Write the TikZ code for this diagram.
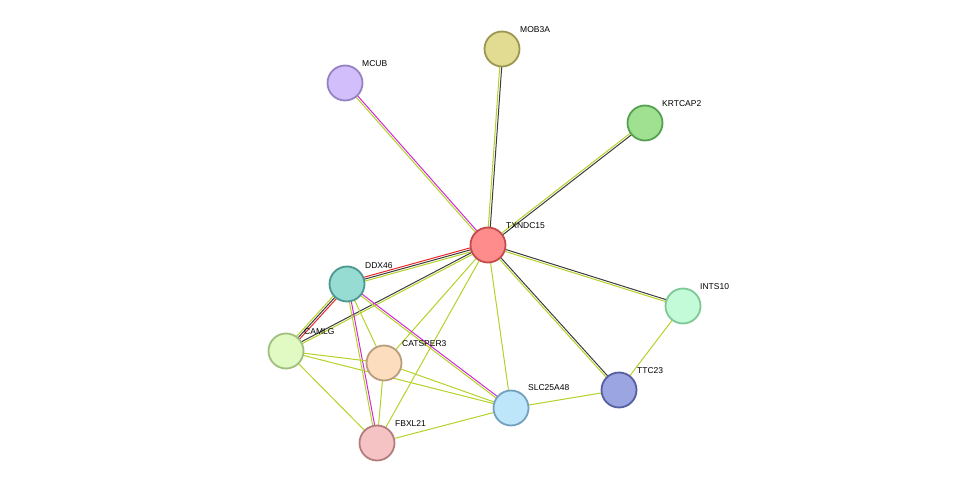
\documentclass[tikz,border=0pt]{standalone}
\usepackage{fontspec}
\setmainfont{Liberation Sans}
\usetikzlibrary{calc}
\definecolor{yg}{RGB}{180,210,40}
\definecolor{dk}{RGB}{60,60,60}
\definecolor{mg}{RGB}{210,40,210}
\definecolor{rd}{RGB}{235,40,40}
\begin{document}
\begin{tikzpicture}[x=1pt,y=-1pt,
  prot/.style={circle,minimum size=35pt,inner sep=0pt,line width=1.8pt},
  lab/.style={font=\fontsize{8.5}{10}\selectfont,anchor=south west,inner sep=1pt},
  e/.style={line width=1pt}]
\useasboundingbox (0,0) rectangle (976,489);
\foreach \n/\x/\y in {T/488/245,M/502/49,MC/345/83,K/645/123,D/347/284,I/683/306,C/286/351,CA/384/363,S/511/408,TT/619/390,F/377/443}
  \coordinate (\n) at (\x,\y);
\newcommand{\pe}[4]{\draw[e,#4] ($(#1)!#3!90:(#2)$) -- ($(#2)!#3!-90:(#1)$);}
% TXNDC15 edges
\pe{T}{M}{-1pt}{dk}\pe{T}{M}{1pt}{yg}
\pe{T}{MC}{-1pt}{mg}\pe{T}{MC}{1pt}{yg}
\pe{T}{K}{-1pt}{dk}\pe{T}{K}{1pt}{yg}
\pe{T}{D}{2pt}{yg}\pe{T}{D}{0pt}{dk}\pe{T}{D}{-2pt}{rd}
\pe{T}{C}{1pt}{yg}\pe{T}{C}{-1pt}{dk}
\pe{T}{CA}{0pt}{yg}\pe{T}{F}{0pt}{yg}\pe{T}{S}{0pt}{yg}
\pe{T}{TT}{1pt}{dk}\pe{T}{TT}{-1pt}{yg}
\pe{T}{I}{1pt}{dk}\pe{T}{I}{-1pt}{yg}
% DDX46 edges
\pe{D}{C}{2pt}{rd}\pe{D}{C}{0pt}{dk}\pe{D}{C}{-2pt}{yg}
\pe{D}{CA}{0pt}{yg}
\pe{D}{F}{1pt}{mg}\pe{D}{F}{-1pt}{yg}
\pe{D}{S}{1pt}{mg}\pe{D}{S}{-1pt}{yg}
% others
\pe{C}{CA}{0pt}{yg}\pe{C}{S}{0pt}{yg}\pe{C}{F}{0pt}{yg}
\pe{CA}{S}{0pt}{yg}\pe{CA}{F}{0pt}{yg}\pe{F}{S}{0pt}{yg}
\pe{S}{TT}{0pt}{yg}\pe{TT}{I}{0pt}{yg}
% nodes
\node[prot,fill={rgb,255:red,255;green,140;blue,140},draw={rgb,255:red,195;green,75;blue,75}] (nT) at (T) {};
\node[prot,fill={rgb,255:red,225;green,220;blue,145},draw={rgb,255:red,155;green,150;blue,80}] (nM) at (M) {};
\node[prot,fill={rgb,255:red,210;green,190;blue,250},draw={rgb,255:red,150;green,130;blue,195}] (nMC) at (MC) {};
\node[prot,fill={rgb,255:red,160;green,225;blue,145},draw={rgb,255:red,85;green,160;blue,80}] (nK) at (K) {};
\node[prot,fill={rgb,255:red,150;green,220;blue,210},draw={rgb,255:red,75;green,150;blue,145}] (nD) at (D) {};
\node[prot,fill={rgb,255:red,195;green,250;blue,215},draw={rgb,255:red,125;green,200;blue,150}] (nI) at (I) {};
\node[prot,fill={rgb,255:red,225;green,250;blue,195},draw={rgb,255:red,160;green,190;blue,125}] (nC) at (C) {};
\node[prot,fill={rgb,255:red,252;green,222;blue,190},draw={rgb,255:red,185;green,155;blue,125}] (nCA) at (CA) {};
\node[prot,fill={rgb,255:red,190;green,230;blue,250},draw={rgb,255:red,115;green,160;blue,190}] (nS) at (S) {};
\node[prot,fill={rgb,255:red,155;green,165;blue,225},draw={rgb,255:red,85;green,95;blue,160}] (nTT) at (TT) {};
\node[prot,fill={rgb,255:red,245;green,195;blue,195},draw={rgb,255:red,180;green,125;blue,125}] (nF) at (F) {};
% labels
\node[lab] at (505,230) {TXNDC15};
\node[lab] at (519,34) {MOB3A};
\node[lab] at (361,68) {MCUB};
\node[lab] at (661,108) {KRTCAP2};
\node[lab] at (364,270) {DDX46};
\node[lab] at (699,291) {INTS10};
\node[lab] at (303,336) {CAMLG};
\node[lab] at (401,348) {CATSPER3};
\node[lab] at (527,392) {SLC25A48};
\node[lab] at (636,375) {TTC23};
\node[lab] at (394,428) {FBXL21};
\end{tikzpicture}
\end{document}
